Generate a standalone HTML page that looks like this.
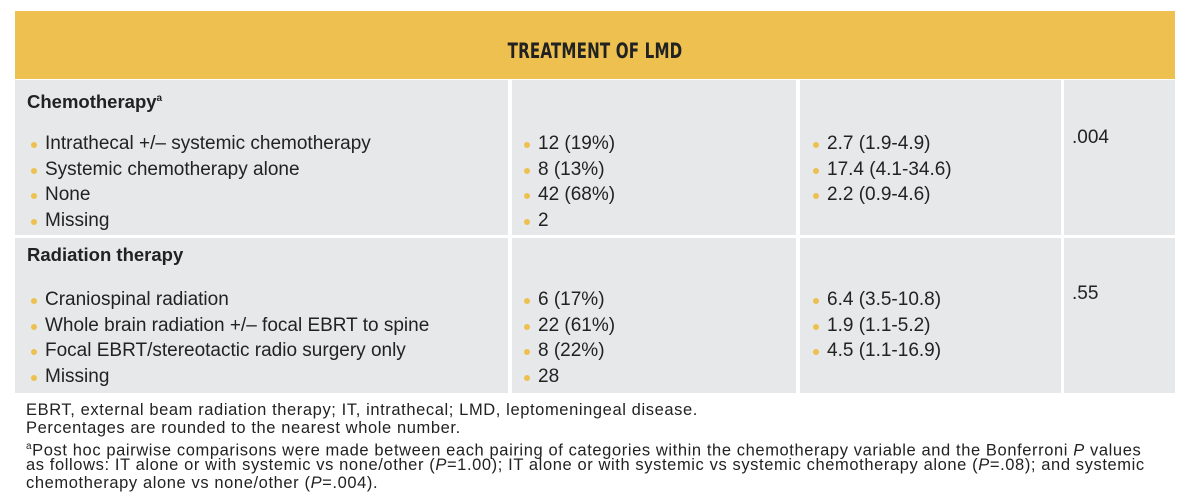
<!DOCTYPE html>
<html><head><meta charset="utf-8">
<style>
body{margin:0;width:1192px;height:504px;background:#fff;font-family:"Liberation Sans",Arial,sans-serif;color:#222;position:relative;overflow:hidden}
.a{position:absolute;white-space:nowrap}
.hdr{left:15px;top:11px;width:1160px;height:68px;background:#edc050}
.cell{background:#e7e8e9}
.t{font-size:19px;line-height:20px;margin-top:1px}
.b::before{content:"";position:absolute;left:-14px;top:8px;width:6px;height:6px;border-radius:3px;background:#edc050}
.f{font-size:16.5px;line-height:17px;left:26px;letter-spacing:0.6px}
</style></head><body>
<div class="a hdr"></div>
<div class="a" style="left:15px;width:1160px;top:39px;text-align:center;font-family:'DejaVu Sans Condensed','Liberation Sans Narrow',sans-serif;font-weight:bold;font-size:21px;letter-spacing:0.2px;color:#222;transform:scaleX(0.8)">TREATMENT OF LMD</div>

<div class="a cell" style="left:15px;top:80px;width:493px;height:155px"></div>
<div class="a cell" style="left:512px;top:80px;width:284px;height:155px"></div>
<div class="a cell" style="left:800px;top:80px;width:261px;height:155px"></div>
<div class="a cell" style="left:1064px;top:80px;width:111px;height:155px"></div>
<div class="a cell" style="left:15px;top:238px;width:493px;height:155px"></div>
<div class="a cell" style="left:512px;top:238px;width:284px;height:155px"></div>
<div class="a cell" style="left:800px;top:238px;width:261px;height:155px"></div>
<div class="a cell" style="left:1064px;top:238px;width:111px;height:155px"></div>

<div class="a t" style="left:27px;top:88px;font-weight:bold;font-size:18.5px">Chemotherapy<sup style="font-size:10px">a</sup></div>
<div class="a t b" style="left:45px;top:133px">Intrathecal +/– systemic chemotherapy</div>
<div class="a t b" style="left:45px;top:159px">Systemic chemotherapy alone</div>
<div class="a t b" style="left:45px;top:184px">None</div>
<div class="a t b" style="left:45px;top:210px">Missing</div>
<div class="a t b" style="left:538px;top:133px">12 (19%)</div>
<div class="a t b" style="left:538px;top:159px">8 (13%)</div>
<div class="a t b" style="left:538px;top:184px">42 (68%)</div>
<div class="a t b" style="left:538px;top:210px">2</div>
<div class="a t b" style="left:827px;top:133px">2.7 (1.9-4.9)</div>
<div class="a t b" style="left:827px;top:159px">17.4 (4.1-34.6)</div>
<div class="a t b" style="left:827px;top:184px">2.2 (0.9-4.6)</div>
<div class="a t" style="left:1072px;top:127px">.004</div>

<div class="a t" style="left:27px;top:244px;font-weight:bold;font-size:18.5px">Radiation therapy</div>
<div class="a t b" style="left:45px;top:289px">Craniospinal radiation</div>
<div class="a t b" style="left:45px;top:315px">Whole brain radiation +/– focal EBRT to spine</div>
<div class="a t b" style="left:45px;top:340px">Focal EBRT/stereotactic radio surgery only</div>
<div class="a t b" style="left:45px;top:366px">Missing</div>
<div class="a t b" style="left:538px;top:289px">6 (17%)</div>
<div class="a t b" style="left:538px;top:315px">22 (61%)</div>
<div class="a t b" style="left:538px;top:340px">8 (22%)</div>
<div class="a t b" style="left:538px;top:366px">28</div>
<div class="a t b" style="left:827px;top:289px">6.4 (3.5-10.8)</div>
<div class="a t b" style="left:827px;top:315px">1.9 (1.1-5.2)</div>
<div class="a t b" style="left:827px;top:340px">4.5 (1.1-16.9)</div>
<div class="a t" style="left:1072px;top:283px">.55</div>

<div class="a f" style="top:402px">EBRT, external beam radiation therapy; IT, intrathecal; LMD, leptomeningeal disease.</div>
<div class="a f" style="top:420px">Percentages are rounded to the nearest whole number.</div>
<div class="a f" style="top:438px"><sup style="font-size:10px">a</sup>Post hoc pairwise comparisons were made between each pairing of categories within the chemotherapy variable and the Bonferroni <i>P</i> values</div>
<div class="a f" style="top:457px">as follows: IT alone or with systemic vs none/other (<i>P</i>=1.00); IT alone or with systemic vs systemic chemotherapy alone (<i>P</i>=.08); and systemic</div>
<div class="a f" style="top:475px">chemotherapy alone vs none/other (<i>P</i>=.004).</div>
</body></html>
